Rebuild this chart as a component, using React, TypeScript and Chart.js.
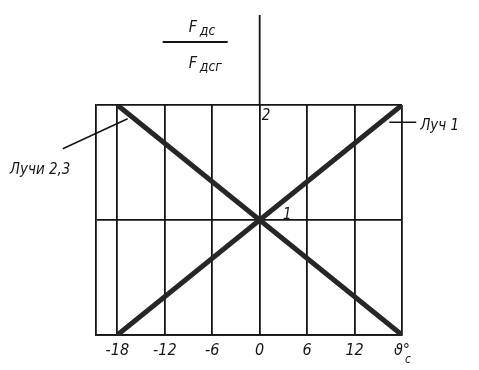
import React, { useEffect, useRef } from "react";
import { Chart, registerables } from "chart.js";

Chart.register(...registerables);

const xTicks = [-18, -12, -6, 0, 6, 12, 18];
const xTickLabels = ["-18", "-12", "-6", "0", "6", "12", "ϑ°"];
const yTicks = [0, 1, 2];
const ray1X = [-18, 18];
const ray1Y = [0, 2];
const ray23X = [-18, 18];
const ray23Y = [2, 0];

const FONT = "'DejaVu Sans Condensed', 'DejaVu Sans', sans-serif";
const INK = "#151515";

const notesPlugin = {
  id: "notes",
  afterDraw(chart: any) {
    const { ctx, chartArea, scales } = chart;
    const xs = scales.x;
    const ys = scales.y;
    const px = (v: number) => xs.getPixelForValue(v);
    const py = (v: number) => ys.getPixelForValue(v);
    ctx.save();
    ctx.strokeStyle = INK;
    ctx.fillStyle = INK;
    // vertical axis extended above the grid
    const x0 = px(0);
    ctx.lineWidth = 1.8;
    ctx.beginPath();
    ctx.moveTo(x0, chartArea.top);
    ctx.lineTo(x0, chartArea.top - 90);
    ctx.stroke();

    // fraction label F_дс / F_дсг
    const fx = x0 - 64;
    ctx.textBaseline = "alphabetic";
    ctx.textAlign = "left";
    ctx.font = `italic 16px ${FONT}`;
    ctx.fillText("F", fx - 7, chartArea.top - 73);
    ctx.font = `italic 14px ${FONT}`;
    ctx.fillText("дс", fx + 4, chartArea.top - 70);
    ctx.lineWidth = 1.8;
    ctx.beginPath();
    ctx.moveTo(x0 - 97, chartArea.top - 63);
    ctx.lineTo(x0 - 32, chartArea.top - 63);
    ctx.stroke();
    ctx.font = `italic 16px ${FONT}`;
    ctx.fillText("F", fx - 7, chartArea.top - 37);
    ctx.font = `italic 14px ${FONT}`;
    ctx.fillText("дсг", fx + 4, chartArea.top - 34);

    // value labels on axis
    ctx.font = `italic 15px ${FONT}`;
    ctx.textAlign = "center";
    ctx.textBaseline = "middle";
    ctx.fillText("2", px(0.8), py(1.9));
    ctx.fillText("1", px(3.5), py(1.04));

    // leader lines and ray labels
    ctx.lineWidth = 1.5;
    ctx.beginPath();
    ctx.moveTo(px(16.4), py(1.85));
    ctx.lineTo(px(19.8), py(1.85));
    ctx.stroke();
    ctx.beginPath();
    ctx.moveTo(px(-24.9), py(1.62));
    ctx.lineTo(px(-16.7), py(1.88));
    ctx.stroke();
    ctx.textAlign = "left";
    ctx.font = `italic 15px ${FONT}`;
    ctx.fillText("Луч 1", px(20.3), py(1.82));
    ctx.fillText("Лучи 2,3", px(-31.6), py(1.43));

    // subscript c of the axis symbol
    ctx.font = `italic 12px ${FONT}`;
    ctx.textAlign = "left";
    ctx.fillText("c", px(18) + 3, chartArea.bottom + 25);
    ctx.restore();
  },
};

export default function App() {
  const ref = useRef<HTMLCanvasElement | null>(null);
  useEffect(() => {
    if (!ref.current) return;
    const chart = new Chart(ref.current, {
      type: "line",
      data: {
        datasets: [
          {
            label: "Луч 1",
            data: ray1X.map((x, i) => ({ x, y: ray1Y[i] })),
            borderColor: "#262626",
            borderWidth: 5,
            pointRadius: 0,
          },
          {
            label: "Лучи 2,3",
            data: ray23X.map((x, i) => ({ x, y: ray23Y[i] })),
            borderColor: "#262626",
            borderWidth: 5,
            pointRadius: 0,
          },
        ],
      },
      options: {
        animation: false,
        responsive: true,
        maintainAspectRatio: false,
        layout: { padding: { left: 96, right: 77, top: 105, bottom: 0 } },
        plugins: { legend: { display: false }, tooltip: { enabled: false } },
        scales: {
          x: {
            type: "linear",
            min: -20.7,
            max: 18,
            afterBuildTicks: (s: any) => {
              s.ticks = xTicks.map((v) => ({ value: v }));
            },
            afterFit: (s: any) => {
              s.height = 35;
            },
            grid: { color: INK, lineWidth: 1.8, drawTicks: false },
            border: { color: INK, width: 1.8 },
            ticks: {
              padding: 6,
              color: INK,
              font: { family: FONT, size: 16, style: "italic" },
              callback: (v: any) => {
                const i = xTicks.indexOf(Number(v));
                return i >= 0 ? xTickLabels[i] : "";
              },
              maxRotation: 0,
              autoSkip: false,
            },
          },
          y: {
            type: "linear",
            min: 0,
            max: 2,
            afterBuildTicks: (s: any) => {
              s.ticks = yTicks.map((v) => ({ value: v }));
            },
            afterFit: (s: any) => {
              s.width = 0;
            },
            grid: { color: INK, lineWidth: 1.8, drawTicks: false },
            border: { color: INK, width: 1.8 },
            ticks: { display: false },
          },
        },
      },
      plugins: [notesPlugin],
    });
    return () => chart.destroy();
  }, []);
  return (
    <div style={{ position: "absolute", left: 0, top: 0, width: 479, height: 370, background: "#fff" }}>
      <canvas ref={ref} />
    </div>
  );
}
